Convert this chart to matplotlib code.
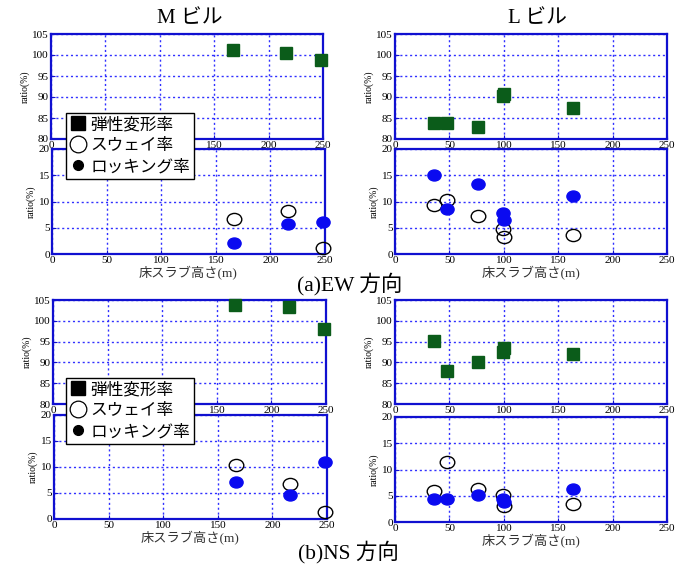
import matplotlib
matplotlib.use("Agg")
import matplotlib.pyplot as plt
from matplotlib.path import Path
from matplotlib.lines import Line2D
import matplotlib.transforms as mtrans

plt.rcParams['font.family'] = ['Liberation Serif', 'Noto Sans CJK JP']

# ---- data ----
# (a) EW direction
ew_m_x = [167, 216, 248]
ew_m_elastic = [101.3, 100.4, 98.7]
ew_m_sway = [6.6, 8.1, 1.2]
ew_m_rock = [2.1, 5.8, 6.1]

ew_l_x = [36, 48, 76, 99.5, 100.5, 164]
ew_l_elastic = [83.8, 83.7, 82.9, 90.2, 90.6, 87.5]
ew_l_sway = [9.4, 10.2, 7.2, 4.7, 3.2, 3.6]
ew_l_rock = [15.0, 8.6, 13.3, 7.8, 6.4, 11.1]

# (b) NS direction
ns_m_x = [167, 216, 248]
ns_m_elastic = [103.7, 103.2, 98.1]
ns_m_sway = [10.4, 6.8, 1.4]
ns_m_rock = [7.1, 4.7, 10.9]

ns_l_x = [36, 48, 76, 99.5, 100.5, 164]
ns_l_elastic = [95.1, 87.9, 90.1, 92.6, 93.4, 92.1]
ns_l_sway = [6.0, 11.4, 6.3, 5.1, 3.1, 3.5]
ns_l_rock = [4.3, 4.4, 5.1, 4.4, 3.9, 6.2]

x_ticks = [0, 50, 100, 150, 200, 250]
upper_yticks = [80, 85, 90, 95, 100, 105]
lower_yticks = [0, 5, 10, 15, 20]

legend_labels = ['弾性変形率', 'スウェイ率', 'ロッキング率']
titles = ['M ビル', 'L ビル']
panel_labels = ['(a)EW 方向', '(b)NS 方向']
xlabel = '床スラブ高さ(m)'
ylabel = 'ratio(%)'

W, H = 688, 571
fig = plt.figure(figsize=(W / 100, H / 100), dpi=100)

def box(l, r, t, b):
    return [l / W, 1 - b / H, (r - l) / W, (b - t) / H]

ellipse = Path.unit_circle().transformed(mtrans.Affine2D().scale(1.2, 1.0))

SPINE = '#1010d0'
GRID = '#3030ff'
GREEN = '#0b5c1a'
BLUE = '#0a0af0'

def style(ax, yticks, ylim):
    ax.set_xlim(0, 250)
    ax.set_ylim(*ylim)
    ax.set_xticks(x_ticks)
    ax.set_yticks(yticks)
    ax.grid(True, color=GRID, linestyle=(0, (1.5, 2)), linewidth=1.0)
    ax.set_axisbelow(True)
    for s in ax.spines.values():
        s.set_color(SPINE)
        s.set_linewidth(1.6)
    ax.tick_params(direction='in', length=3, color=SPINE, labelsize=8, pad=1.5)
    ax.set_ylabel(ylabel, fontsize=7, labelpad=2)

def upper(pos, x, y):
    ax = fig.add_axes(box(*pos))
    ax.plot(x, y, linestyle='none', marker='s', markersize=8.5,
            color=GREEN, markeredgecolor=GREEN, clip_on=False, zorder=3)
    style(ax, upper_yticks, (80, 105))
    return ax

def lower(pos, x, sway, rock):
    ax = fig.add_axes(box(*pos))
    ax.plot(x, sway, linestyle='none', marker=ellipse, markersize=10.5,
            markerfacecolor='none', markeredgecolor='black', markeredgewidth=1.0,
            clip_on=False, zorder=3)
    ax.plot(x, rock, linestyle='none', marker=ellipse, markersize=9.5,
            color=BLUE, markeredgecolor=BLUE, clip_on=False, zorder=4)
    style(ax, lower_yticks, (0, 20))
    return ax

layout = [
    # (upper pos, lower pos, x, elastic, sway, rock)
    ((51, 323, 34, 139), (52, 325, 149, 254), ew_m_x, ew_m_elastic, ew_m_sway, ew_m_rock),
    ((395, 667, 34, 139), (395, 667, 149, 254), ew_l_x, ew_l_elastic, ew_l_sway, ew_l_rock),
    ((53, 326, 300, 404), (54, 327, 415, 519), ns_m_x, ns_m_elastic, ns_m_sway, ns_m_rock),
    ((395, 667, 300, 404), (395, 667, 417, 522), ns_l_x, ns_l_elastic, ns_l_sway, ns_l_rock),
]

for up, lo, x, el, sw, ro in layout:
    upper(up, x, el)
    lower(lo, x, sw, ro)
    cx = (lo[0] + lo[1]) / 2
    fig.text(cx / W, 1 - (lo[3] + 19) / H, xlabel, ha='center', va='center',
             fontsize=9.5, color='#333333')

fig.text(190 / W, 1 - 19 / H, titles[0], ha='center', va='center', fontsize=15)
fig.text(537 / W, 1 - 19 / H, titles[1], ha='center', va='center', fontsize=15)
fig.text(350 / W, 1 - 284 / H, panel_labels[0], ha='center', va='center', fontsize=15.5)
fig.text(348 / W, 1 - 552 / H, panel_labels[1], ha='center', va='center', fontsize=15.5)

handles = [
    Line2D([], [], linestyle='none', marker='s', markersize=10, color='black'),
    Line2D([], [], linestyle='none', marker='o', markersize=12,
           markerfacecolor='white', markeredgecolor='black', markeredgewidth=0.9),
    Line2D([], [], linestyle='none', marker='o', markersize=7, color='black'),
]

for top in (113, 378):
    leg = fig.legend(handles, legend_labels, loc='upper left',
                     bbox_to_anchor=(66 / W, 1 - top / H),
                     frameon=True, fancybox=False, framealpha=1.0,
                     edgecolor='black', fontsize=12, handlelength=0.9,
                     handletextpad=0.3, borderpad=0.25, labelspacing=0.3,
                     borderaxespad=0)
    leg.get_frame().set_linewidth(1.0)
    leg.set_zorder(10)

fig.savefig('out.png', dpi=100)
